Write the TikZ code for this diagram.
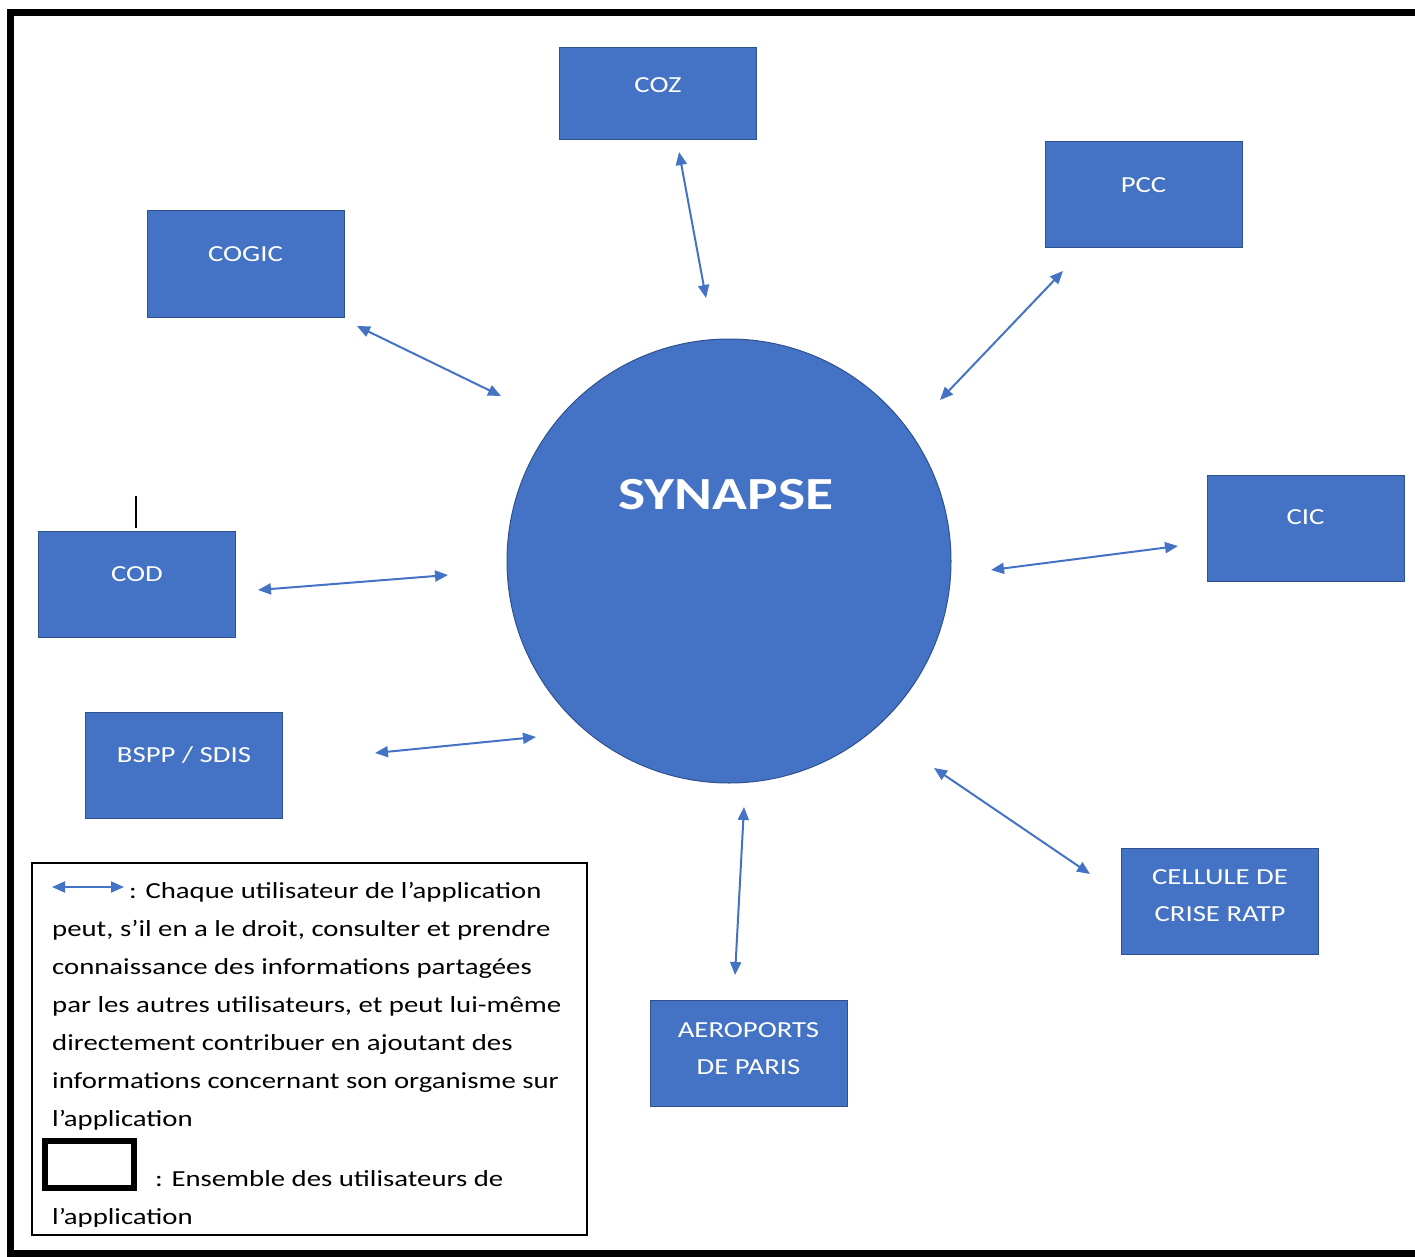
\documentclass[tikz,border=0pt]{standalone}
\usepackage{fontspec}
\setmainfont{Carlito}[FakeStretch=1.25]
\usetikzlibrary{positioning}
\usetikzlibrary{arrows.meta}

\definecolor{synblue}{HTML}{4472C4}
\definecolor{synedge}{HTML}{2F528F}

\tikzset{
 userbox/.style={draw=synedge,fill=synblue,line width=1pt,minimum width=197pt,minimum height=106pt},
 boxlabel/.style={text=white,font=\fontsize{23}{37}\selectfont,align=center,inner sep=0pt},
 hub/.style={circle,draw=synedge,fill=synblue,line width=1pt,minimum size=444pt},
 biarrow/.style={synblue,line width=2pt,{Triangle[length=13pt,width=11pt]}-{Triangle[length=13pt,width=11pt]}},
 legtext/.style={font=\fontsize{23}{38}\selectfont,inner sep=0pt,anchor=base west},
}

\begin{document}
\begin{tikzpicture}[x=1pt,y=-1pt]
 \useasboundingbox (0,0) rectangle (1415,1257);
 \clip (0,0) rectangle (1415,1257);
 % frame round all users
 \draw[line width=7pt] (1430,12.5)--(10.5,12.5)--(10.5,1253.5)--(1430,1253.5);

 % the hub
 \node[hub] (syn) at (729,561) {};
 \node[text=white,font=\fontsize{46}{50}\selectfont\bfseries,inner sep=0pt] (synT) at (726,495) {SYNAPSE};

 % the users
 \node[userbox,minimum height=92pt] (coz) at (658,94) {};
 \node[boxlabel] (cozT) at (658,85) {COZ};
 \node[userbox] (pcc) at (1143.5,195) {};
 \node[boxlabel] (pccT) at (1143.5,185) {PCC};
 \node[userbox] (cogic) at (245.5,264) {};
 \node[boxlabel] (cogicT) at (245.5,254) {COGIC};
 \node[userbox] (cic) at (1305.5,528) {};
 \node[boxlabel] (cicT) at (1305.5,517) {CIC};
 \node[userbox] (cod) at (137,584) {};
 \node[boxlabel] (codT) at (137,574) {COD};
 \node[userbox] (bspp) at (184,765) {};
 \node[boxlabel] (bsppT) at (184,755) {BSPP / SDIS};
 \node[userbox] (ratp) at (1220,901) {};
 \node[boxlabel] (ratpT) at (1220,896) {CELLULE DE\\CRISE RATP};
 \node[userbox] (adp) at (748.5,1053.5) {};
 \node[boxlabel] (adpT) at (748.5,1049) {AEROPORTS\\DE PARIS};

 % arrow ends
 \coordinate (cozA) at (679,152);  \coordinate (cozB) at (706,298);
 \coordinate (pccA) at (1063,271); \coordinate (pccB) at (940,400);
 \coordinate (cogicA) at (357,326); \coordinate (cogicB) at (501,396);
 \coordinate (codA) at (258,590);  \coordinate (codB) at (448,575);
 \coordinate (cicA) at (1178,546); \coordinate (cicB) at (991,570);
 \coordinate (bsppA) at (375,753); \coordinate (bsppB) at (536,737);
 \coordinate (ratpA) at (1090,874); \coordinate (ratpB) at (934,768);
 \coordinate (adpA) at (735,975);  \coordinate (adpB) at (744,807);
 \foreach \u in {coz,pcc,cogic,cod,cic,bspp,ratp,adp}
  \draw[biarrow] (\u A) -- (\u B);

 % stray mark above COD
 \draw[line width=1.5pt] (136,496) -- (136,528);

 % legend
 \draw[line width=1.5pt] (32,863) rectangle (587,1235);
 \coordinate (legA) at (52,887); \coordinate (legB) at (124,887);
 \draw[biarrow] (legA) -- (legB);
 \node[legtext] (leg0) at (129,898) {: Chaque utilisateur de l’application};
 \foreach \ln [count=\i] in {{peut, s’il en a le droit, consulter et prendre},
  {connaissance des informations partagées},
  {par les autres utilisateurs, et peut lui-même},
  {directement contribuer en ajoutant des},
  {informations concernant son organisme sur},
  {l’application}}
  \node[legtext] (leg\i) at (52,898+38*\i) {\ln};
 \draw[line width=6pt] (45,1141) rectangle (134,1188);
 \node[legtext] (leg7) at (155,1186) {: Ensemble des utilisateurs de};
 \begin{scope}
  \clip (32,1190) rectangle (587,1226);
  \node[legtext] (leg8) at (52,1224) {l’application};
 \end{scope}
\end{tikzpicture}
\end{document}
